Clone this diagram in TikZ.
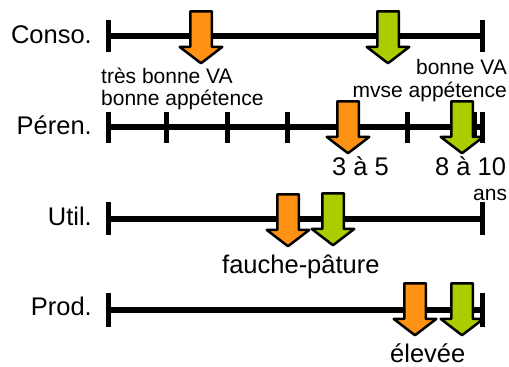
\documentclass[tikz,border=0pt]{standalone}
\usepackage{fontspec}
\setmainfont{Liberation Sans}
\usetikzlibrary{shapes.arrows}
\definecolor{arrorange}{RGB}{255,146,20}
\definecolor{arrgreen}{RGB}{170,205,0}
\begin{document}
\begin{tikzpicture}[x=1pt,y=-1pt,
  axisline/.style={line width=6pt},
  tickmark/.style={line width=5pt},
  marker/.style={single arrow, draw=black, line width=2.5pt, line join=round,
    inner xsep=0pt, inner ysep=9.5pt, minimum height=52pt, minimum width=0pt,
    single arrow head extend=10.5pt, single arrow tip angle=105,
    rotate=-90, anchor=tail},
  orangemark/.style={marker, fill=arrorange},
  greenmark/.style={marker, fill=arrgreen},
  rowlabel/.style={font=\fontsize{25.5}{30}\selectfont, anchor=base east, inner sep=0pt},
  biglabel/.style={font=\fontsize{25.5}{30}\selectfont, anchor=base west, inner sep=0pt},
  smalllabel/.style={font=\fontsize{21}{24}\selectfont, inner sep=0pt},
]
\useasboundingbox (0,0) rectangle (509,367);

% ---- Conso.
\coordinate (c0) at (108,36);
\coordinate (c1) at (482,36);
\draw[axisline] (c0) -- (c1);
\foreach \p in {c0,c1}
  \draw[tickmark] ([yshift=16pt]\p) -- ([yshift=-16pt]\p);
\node[orangemark] (cA) at (201,10) {};
\node[greenmark]  (cB) at (388,10) {};
\node[rowlabel] (cL) at (92,43) {Conso.};
\node[smalllabel, anchor=base west] (cT1) at (101,83) {très bonne VA};
\node[smalllabel, anchor=base west] (cT2) at (101,105) {bonne appétence};
\node[smalllabel, anchor=base east] (cT3) at (507,74) {bonne VA};
\node[smalllabel, anchor=base east] (cT4) at (507,97) {mvse appétence};

% ---- Péren.
\coordinate (p0) at (108,127);
\coordinate (p1) at (482,127);
\draw[axisline] (p0) -- (p1);
\foreach \x in {108,166,227,287,347,407,474,482}
  \draw[tickmark] (\x,111.5) -- (\x,142.5);
\node[orangemark] (pA) at (348,100) {};
\node[greenmark]  (pB) at (462,100) {};
\node[rowlabel] (pL) at (92,134) {Péren.};
\node[biglabel] (pT1) at (332,175) {3 à 5};
\node[biglabel] (pT2) at (435,175) {8 à 10};
\node[smalllabel, anchor=base west] (pT3) at (473,200) {ans};

% ---- Util.
\coordinate (u0) at (108,218.5);
\coordinate (u1) at (482,218.5);
\draw[axisline] (u0) -- (u1);
\foreach \p in {u0,u1}
  \draw[tickmark] ([yshift=16.5pt]\p) -- ([yshift=-16.5pt]\p);
\node[orangemark] (uA) at (288,193) {};
\node[greenmark]  (uB) at (333,192) {};
\node[rowlabel] (uL) at (92,225) {Util.};
\node[biglabel] (uT) at (222,273) {fauche-pâture};

% ---- Prod.
\coordinate (d0) at (108,310);
\coordinate (d1) at (482,310);
\draw[axisline] (d0) -- (d1);
\foreach \p in {d0,d1}
  \draw[tickmark] ([yshift=17pt]\p) -- ([yshift=-17pt]\p);
\node[orangemark] (dA) at (415,282) {};
\node[greenmark]  (dB) at (462,282) {};
\node[rowlabel] (dL) at (92,315) {Prod.};
\node[biglabel] (dT) at (390,362) {élevée};
\end{tikzpicture}
\end{document}
